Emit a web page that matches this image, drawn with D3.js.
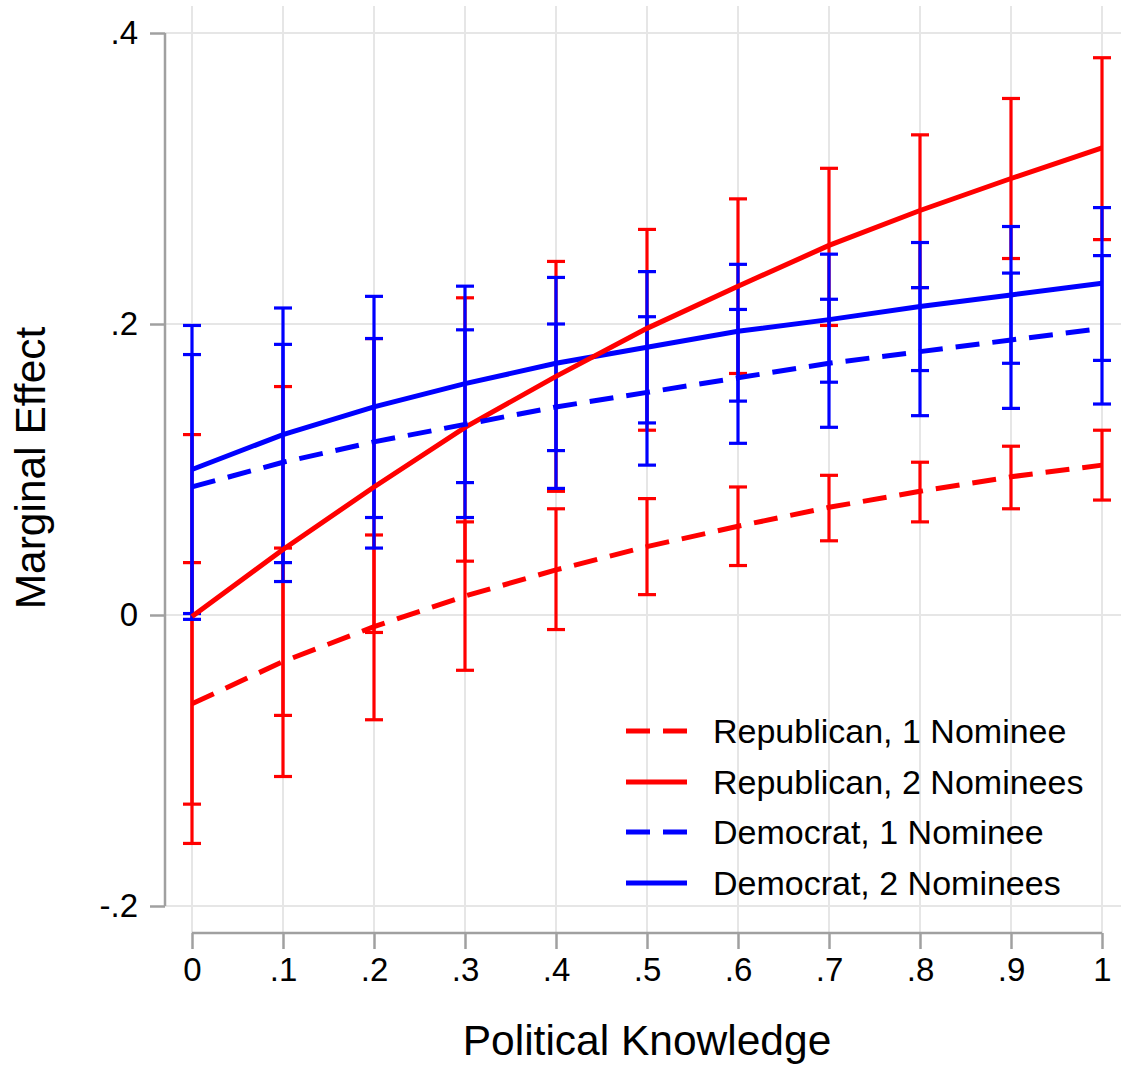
<!DOCTYPE html>
<html>
<head>
<meta charset="utf-8">
<script src="https://cdn.jsdelivr.net/npm/d3@7"></script>
<style>
  body { margin: 0; background: #fff; }
  svg { display: block; font-family: Arial, "Liberation Sans", sans-serif; }
</style>
</head>
<body>
<div class="chart"></div>
<script>
// political knowledge grid
const knowledge = [0, .1, .2, .3, .4, .5, .6, .7, .8, .9, 1];
const xTicks = [0, .1, .2, .3, .4, .5, .6, .7, .8, .9, 1];
const xTickLabels = ['0', '.1', '.2', '.3', '.4', '.5', '.6', '.7', '.8', '.9', '1'];
const yTicks = [-.2, 0, .2, .4];
const yTickLabels = ['-.2', '0', '.2', '.4'];

// Republican, 1 Nominee
const rep1 = [-0.061, -0.032, -0.008, 0.013, 0.031, 0.047, 0.061, 0.074, 0.085, 0.095, 0.103];
const rep1Lo = [-0.157, -0.111, -0.072, -0.038, -0.010, 0.014, 0.034, 0.051, 0.064, 0.073, 0.079];
const rep1Hi = [0.036, 0.046, 0.055, 0.064, 0.073, 0.080, 0.088, 0.096, 0.105, 0.116, 0.127];

// Republican, 2 Nominees
const rep2 = [-0.001, 0.045, 0.088, 0.129, 0.164, 0.197, 0.226, 0.254, 0.278, 0.300, 0.321];
const rep2Lo = [-0.130, -0.069, -0.012, 0.037, 0.085, 0.127, 0.166, 0.199, 0.225, 0.245, 0.258];
const rep2Hi = [0.124, 0.157, 0.190, 0.218, 0.243, 0.265, 0.286, 0.307, 0.330, 0.355, 0.383];

// Democrat, 1 Nominee
const dem1 = [0.088, 0.105, 0.119, 0.131, 0.143, 0.153, 0.163, 0.173, 0.181, 0.189, 0.197];
const dem1Lo = [-0.003, 0.023, 0.046, 0.067, 0.087, 0.103, 0.118, 0.129, 0.137, 0.142, 0.145];
const dem1Hi = [0.179, 0.186, 0.190, 0.196, 0.200, 0.205, 0.210, 0.217, 0.225, 0.235, 0.247];

// Democrat, 2 Nominees
const dem2 = [0.100, 0.124, 0.143, 0.159, 0.173, 0.184, 0.195, 0.203, 0.212, 0.220, 0.228];
const dem2Lo = [0.001, 0.036, 0.067, 0.091, 0.113, 0.132, 0.147, 0.160, 0.168, 0.173, 0.175];
const dem2Hi = [0.199, 0.211, 0.219, 0.226, 0.232, 0.236, 0.241, 0.248, 0.256, 0.267, 0.280];

const seriesNames = ['Republican, 1 Nominee', 'Republican, 2 Nominees', 'Democrat, 1 Nominee', 'Democrat, 2 Nominees'];

const width = 1121;
const height = 1066;

const series = [
    { name: seriesNames[0], mid: rep1, lo: rep1Lo, hi: rep1Hi, color: '#ff0000', dash: '24 13' },
    { name: seriesNames[1], mid: rep2, lo: rep2Lo, hi: rep2Hi, color: '#ff0000', dash: null },
    { name: seriesNames[2], mid: dem1, lo: dem1Lo, hi: dem1Hi, color: '#0000ff', dash: '24 13' },
    { name: seriesNames[3], mid: dem2, lo: dem2Lo, hi: dem2Hi, color: '#0000ff', dash: null }
];

const x = d3.scaleLinear().domain([0, 1]).range([192, 1102]);
const y = d3.scaleLinear().domain([-0.2, 0.4]).range([906, 33]);

const svg = d3.select('.chart').append('svg')
    .attr('width', width)
    .attr('height', height);

// grid
svg.append('g').selectAll('line')
    .data(yTicks)
    .enter()
    .append('line')
    .attr('x1', 165).attr('x2', width)
    .attr('y1', d => y(d)).attr('y2', d => y(d))
    .attr('stroke', '#e6e6e6').attr('stroke-width', 2);

svg.append('g').selectAll('line')
    .data(xTicks)
    .enter()
    .append('line')
    .attr('x1', d => x(d)).attr('x2', d => x(d))
    .attr('y1', 6).attr('y2', 933)
    .attr('stroke', '#e6e6e6').attr('stroke-width', 2);

// axes
const yAxis = d3.axisLeft(y)
    .tickValues(yTicks)
    .tickFormat((d, i) => yTickLabels[i])
    .tickSize(15)
    .tickPadding(12);

const yG = svg.append('g')
    .attr('transform', 'translate(165,0)')
    .call(yAxis);

const xAxis = d3.axisBottom(x)
    .tickValues(xTicks)
    .tickFormat((d, i) => xTickLabels[i])
    .tickSize(16)
    .tickPadding(9);

const xG = svg.append('g')
    .attr('transform', 'translate(0,933)')
    .call(xAxis);

[yG, xG].forEach(g => {
    g.select('.domain').attr('stroke', '#a0a0a0').attr('stroke-width', 2.5);
    g.selectAll('.tick line').attr('stroke', '#a0a0a0').attr('stroke-width', 2.5);
    g.selectAll('.tick text')
        .attr('fill', '#000')
        .style('font-size', '33px')
        .style('font-family', 'Arial, "Liberation Sans", sans-serif');
});
// domain paths without the outer ticks
yG.select('.domain').attr('d', `M0,${y(0.4)}V${y(-0.2)}`);
xG.select('.domain').attr('d', `M${x(0)},0H${x(1)}`);

// axis titles
svg.append('text')
    .attr('transform', 'translate(45,468) rotate(-90)')
    .attr('text-anchor', 'middle')
    .style('font-size', '42.5px')
    .text('Marginal Effect');

svg.append('text')
    .attr('x', 647)
    .attr('y', 1055)
    .attr('text-anchor', 'middle')
    .style('font-size', '42.5px')
    .text('Political Knowledge');

// error bars
const capHalf = 9;
series.forEach(s => {
    const g = svg.append('g');
    const pts = knowledge.map((k, i) => ({ k, lo: s.lo[i], hi: s.hi[i] }));
    g.selectAll('.bar')
        .data(pts)
        .enter()
        .append('line')
        .attr('x1', d => x(d.k)).attr('x2', d => x(d.k))
        .attr('y1', d => y(d.lo)).attr('y2', d => y(d.hi))
        .attr('stroke', s.color).attr('stroke-width', 3.2);
    ['lo', 'hi'].forEach(end => {
        g.selectAll('.cap-' + end)
            .data(pts)
            .enter()
            .append('line')
            .attr('x1', d => x(d.k) - capHalf).attr('x2', d => x(d.k) + capHalf)
            .attr('y1', d => y(d[end])).attr('y2', d => y(d[end]))
            .attr('stroke', s.color).attr('stroke-width', 3.2);
    });
});

// lines (drawing order picked so crossings overlap like the original)
const line = d3.line().x(d => x(d[0])).y(d => y(d[1]));
[0, 3, 1, 2].forEach(idx => {
    const s = series[idx];
    svg.append('path')
        .datum(knowledge.map((k, i) => [k, s.mid[i]]))
        .attr('d', line)
        .attr('fill', 'none')
        .attr('stroke', s.color)
        .attr('stroke-width', 5)
        .attr('stroke-dasharray', s.dash);
});

// legend
const legend = svg.append('g');
const rowY = [731, 782, 832, 883];
series.forEach((s, i) => {
    legend.append('line')
        .attr('x1', 626).attr('x2', 687)
        .attr('y1', rowY[i]).attr('y2', rowY[i])
        .attr('stroke', s.color)
        .attr('stroke-width', 5)
        .attr('stroke-dasharray', s.dash);
    legend.append('text')
        .attr('x', 713)
        .attr('y', rowY[i] + 12)
        .style('font-size', '34px')
        .text(s.name);
});
</script>
</body>
</html>
